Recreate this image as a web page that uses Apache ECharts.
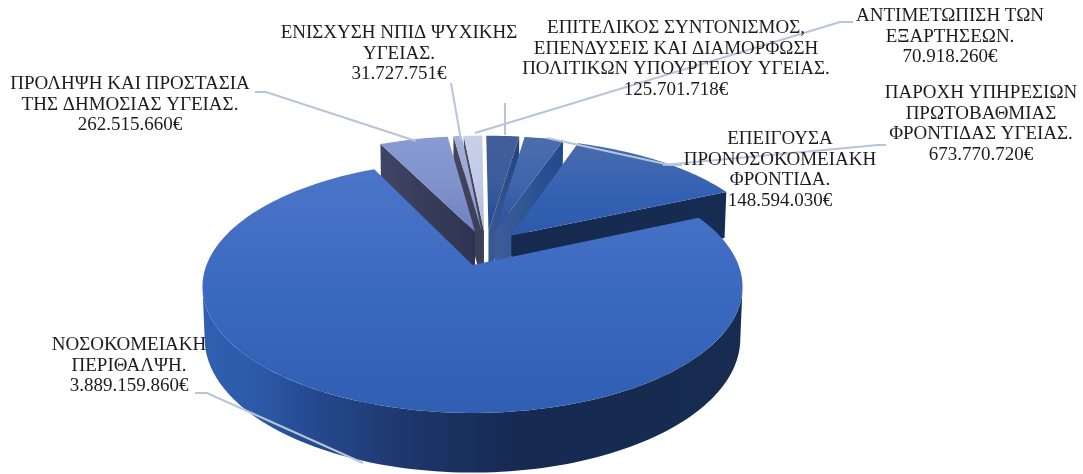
<!DOCTYPE html>
<html><head><meta charset="utf-8">
<style>html,body{margin:0;padding:0;background:#fff}#c{width:1083px;height:474px}</style>
<script src="https://cdn.jsdelivr.net/npm/echarts@6/dist/echarts.min.js"></script>
</head><body><div id="c"></div>
<script>
// Data (clockwise from 12 o'clock)
const categories = [
  'ΕΠΙΤΕΛΙΚΟΣ ΣΥΝΤΟΝΙΣΜΟΣ,\nΕΠΕΝΔΥΣΕΙΣ ΚΑΙ ΔΙΑΜΟΡΦΩΣΗ\nΠΟΛΙΤΙΚΩΝ ΥΠΟΥΡΓΕΙΟΥ ΥΓΕΙΑΣ.',
  'ΕΠΕΙΓΟΥΣΑ\nΠΡΟΝΟΣΟΚΟΜΕΙΑΚΗ\nΦΡΟΝΤΙΔΑ.',
  'ΠΑΡΟΧΗ ΥΠΗΡΕΣΙΩΝ\nΠΡΩΤΟΒΑΘΜΙΑΣ\nΦΡΟΝΤΙΔΑΣ ΥΓΕΙΑΣ.',
  'ΝΟΣΟΚΟΜΕΙΑΚΗ\nΠΕΡΙΘΑΛΨΗ.',
  'ΠΡΟΛΗΨΗ ΚΑΙ ΠΡΟΣΤΑΣΙΑ\nΤΗΣ ΔΗΜΟΣΙΑΣ ΥΓΕΙΑΣ.',
  'ΕΝΙΣΧΥΣΗ ΝΠΙΔ ΨΥΧΙΚΗΣ\nΥΓΕΙΑΣ.',
  'ΑΝΤΙΜΕΤΩΠΙΣΗ ΤΩΝ\nΕΞΑΡΤΗΣΕΩΝ.'
];
const values = [125701718, 148594030, 673770720, 3889159860, 262515660, 31727751, 70918260];

// Styling and layout, by slice
const paintRank = [3, 5, 6, 7, 4, 2, 1];
const topColors = [
  ['#445e96', '#3a5c9e', '#1f4a90'],
  ['#4c6dab', '#3e66ae', '#285196'],
  ['#4a6bab', '#3662b4', '#2c5aab'],
  ['#4c75c8', '#3a69c0', '#2f5eb3'],
  ['#8a9bd2', '#7f92cc', '#6c82bf'],
  ['#a3b0da', '#98a7d4', '#7e90c0'],
  ['#c8d0e8', '#c2cbe6', '#a9b5d6']
];
const wallColors = [
  ['#3b5a92', '#23457f'],
  ['#3e5d98', '#214a8e'],
  ['#16294f', '#172c52'],
  ['#16294f', '#16294f'],
  ['#3f4563', '#2d3350'],
  ['#45465e', '#3c3e55'],
  ['#4e4e62', '#3e3e52']
];
const outerWallStops = [[0, '#3060b2'], [0.1, '#2d5aa8'], [0.2, '#254a90'], [0.4, '#1d3568'], [0.58, '#162a52'], [1, '#172c50']];

// 3D view of the pie plate: apex of the largest slice is the plane origin
const view = {cx: 472.5, cy: 265, A: 266, B: 122.5, k: 0.172, depth: 51, m: 0.008, explode: 0.15, refSlice: 3};
const leaderColor = '#b7c5d9';
const labelFont = '19px "Liberation Serif", "Times New Roman", serif';
const labelLayout = [
  {x: 676, y: 28, leader: [[505, 103], [505, 135]]},
  {x: 780, y: 139, leader: [[682, 165], [670, 165], [547, 138]]},
  {x: 981, y: 93, leader: [[886, 145], [878, 145], [663, 165]]},
  {x: 129, y: 345, leader: [[195, 393], [207, 393], [363, 463]]},
  {x: 130, y: 84, leader: [[255, 92], [266, 92], [416, 141]]},
  {x: 399, y: 33, leader: [[451, 83], [461, 140]]},
  {x: 950, y: 16, leader: [[853, 22], [840, 22], [475, 133]]}
];
const lineH = 20.7;

const total = values.reduce((a, b) => a + b, 0);
const rad = Math.PI / 180;
const ranges = [];
values.reduce((acc, v) => { const e = acc + v / total * 360; ranges.push([acc, e]); return e; }, 0);
const midDir = r => { const m = (r[0] + r[1]) / 2 * rad; return [Math.sin(m), Math.cos(m)]; };
const refDir = midDir(ranges[view.refSlice]);

function project(u, v, z) {
  const w = 1 + view.k * v + view.m * z;
  return [view.cx + view.A * u / w, view.cy + (-view.B * v + view.depth * z) / w];
}
function sliceOffset(i) {
  const d = midDir(ranges[i]);
  return [view.explode * (d[0] - refDir[0]), view.explode * (d[1] - refDir[1])];
}
function arcPts(off, a, b, z) {
  const n = Math.max(2, Math.ceil(Math.abs(b - a) / 1.5));
  const pts = [];
  for (let j = 0; j <= n; j++) {
    const t = (a + (b - a) * j / n) * rad;
    pts.push(project(off[0] + Math.sin(t), off[1] + Math.cos(t), z));
  }
  return pts;
}
const vGrad = c => new echarts.graphic.LinearGradient(0, 0, 0, 1, c.map((col, i) => ({offset: i / (c.length - 1), color: col})));
const hGrad = s => new echarts.graphic.LinearGradient(0, 0, 1, 0, s.map(p => ({offset: p[0], color: p[1]})));

function renderItem(params, api) {
  const i = params.dataIndex;
  const [a, b] = ranges[i];
  const off = sliceOffset(i);
  const rank = paintRank[i] * 10;
  const apexTop = project(off[0], off[1], 0);
  const apexBot = project(off[0], off[1], 1);
  const children = [];
  const radialWall = (deg, z2) => {
    const t = deg * rad;
    const pT = project(off[0] + Math.sin(t), off[1] + Math.cos(t), 0);
    const pB = project(off[0] + Math.sin(t), off[1] + Math.cos(t), 1);
    children.push({type: 'polygon', z2, shape: {points: [apexTop, pT, pB, apexBot]},
      style: {fill: hGrad([[0, wallColors[i][0]], [1, wallColors[i][1]]])}});
  };
  if (Math.sin(a * rad) < -1e-6) radialWall(a, rank);
  if (Math.sin(b * rad) > 1e-6) radialWall(b, rank);
  // outer rim, only the part turned to the viewer
  const lim0 = Math.acos(-view.k) / rad, lim1 = 360 - lim0;
  const va = Math.max(a, lim0), vb = Math.min(b, lim1);
  if (vb > va) {
    children.push({type: 'polygon', z2: rank + 1,
      shape: {points: arcPts(off, va, vb, 0).concat(arcPts(off, vb, va, 1))},
      style: {fill: hGrad(outerWallStops)}});
  }
  children.push({type: 'polygon', z2: rank + 2,
    shape: {points: [apexTop].concat(arcPts(off, a, b, 0))},
    style: {fill: vGrad(topColors[i])}});
  return {type: 'group', children};
}

const fmt = v => String(v).replace(/\B(?=(\d{3})+(?!\d))/g, '.') + '€';
const graphics = [];
categories.forEach((name, i) => {
  const L = labelLayout[i];
  graphics.push({type: 'polyline', z: 50, shape: {points: L.leader},
    style: {fill: null, stroke: leaderColor, lineWidth: 2}});
  (name + '\n' + fmt(values[i])).split('\n').forEach((line, j) => {
    graphics.push({type: 'text', z: 60, x: L.x, y: L.y + j * lineH,
      style: {text: line, font: labelFont, fill: '#1c1c1c', textAlign: 'center', textVerticalAlign: 'middle'}});
  });
});

const chart = echarts.init(document.getElementById('c'), null, {renderer: 'canvas', width: 1083, height: 474});
chart.setOption({
  animation: false,
  backgroundColor: '#fff',
  series: [{type: 'custom', coordinateSystem: 'none', renderItem, data: values.map(v => [v]), silent: true}],
  graphic: graphics
});
</script></body></html>
